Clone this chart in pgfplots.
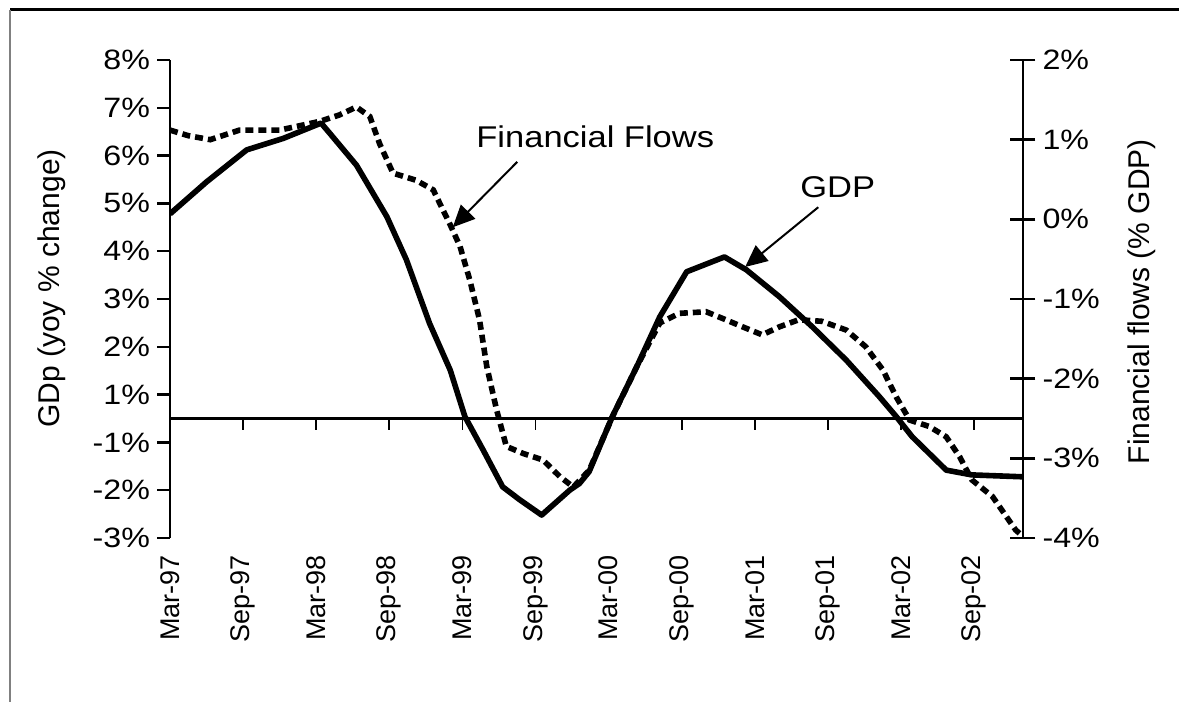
\documentclass[border=0pt]{standalone}
\usepackage{fontspec}
\setmainfont{Liberation Sans}[FakeStretch=1.15]
\newfontfamily\rotfont{Liberation Sans}
\usepackage{pgfplots}
\usepackage{pgfplotstable}
\pgfplotsset{compat=1.18}
\usetikzlibrary{arrows.meta}

\pgfplotstableread{
x y
0 4.28
3.0 4.95
6.3 5.62
9.3 5.86
12.4 6.18
13.1 5.97
15.3 5.30
17.8 4.22
19.4 3.32
21.3 1.99
23.0 1.01
24.2 0.04
25.7 -0.66
27.3 -1.43
28.7 -1.70
30.5 -2.02
32.8 -1.50
33.6 -1.36
34.4 -1.11
36.3 0.04
38.3 1.08
40.2 2.13
42.4 3.07
45.5 3.38
47.3 3.11
50.0 2.55
52.7 1.92
55.5 1.22
58.2 0.46
59.6 0.04
60.9 -0.38
63.7 -1.08
65.8 -1.18
70 -1.22
}\gdptable

\pgfplotstableread{
x y
0 1.12
1.5 1.05
3.3 1.00
5.7 1.12
9.0 1.12
12.3 1.23
13.9 1.31
15.3 1.41
16.4 1.29
17.2 0.95
18.3 0.58
20.2 0.49
21.6 0.37
23.0 -0.07
23.8 -0.34
24.6 -0.76
25.4 -1.26
26.0 -1.85
26.8 -2.39
27.6 -2.85
29.0 -2.94
30.6 -3.02
32.0 -3.23
33.1 -3.36
34.4 -3.15
36.3 -2.48
38.3 -1.85
40.2 -1.30
41.8 -1.18
44.0 -1.16
45.6 -1.26
47.0 -1.35
48.6 -1.45
50.0 -1.35
51.6 -1.26
53.5 -1.28
55.5 -1.39
57.1 -1.60
58.5 -1.89
59.6 -2.23
60.7 -2.52
62.3 -2.60
63.7 -2.73
64.8 -2.98
65.8 -3.27
67.5 -3.48
69.4 -3.90
70 -3.98
}\fftable

\pgfplotstableread{
x y
6 -0.25
12 -0.25
18 -0.25
24 -0.25
30 -0.25
36 -0.25
42 -0.25
48 -0.25
54 -0.25
60 -0.25
66 -0.25
}\ticktable

\pgfplotsset{
  base/.style={
    scale only axis, width=426.5bp, height=239bp,
    xmin=0, xmax=70,
    at={(85bp,82bp)}, anchor=south west,
    axis line style={line width=1.2bp, black},
    every tick/.style={line width=1.2bp, black},
    yticklabel style={font=\fontsize{14bp}{16bp}\selectfont, text=black},
  }
}

\begin{document}
\begin{tikzpicture}
\begin{axis}[base,
  ymin=-2.5, ymax=7.5,
  axis y line*=left, axis x line*=bottom,
  x axis line style={draw=none},
  ytick={-2.5,-1.5,-0.5,0.5,1.5,2.5,3.5,4.5,5.5,6.5,7.5},
  yticklabels={-3\%,-2\%,-1\%,1\%,2\%,3\%,4\%,5\%,6\%,7\%,8\%},
  ytick align=outside, major tick length=6.5bp,
  xtick={0,6,...,66},
  xticklabels={Mar-97,Sep-97,Mar-98,Sep-98,Mar-99,Sep-99,Mar-00,Sep-00,Mar-01,Sep-01,Mar-02,Sep-02},
  xtick align=inside,
  x tick style={draw=none},
  xticklabel shift=5bp,
  xticklabel style={rotate=90, anchor=east, font=\rotfont\fontsize{13.5bp}{15bp}\selectfont},
]
\addplot[black, line width=1.5bp] coordinates {(0,0) (70,0)};
\addplot[ycomb, black, line width=0.9bp, no marks] table {\ticktable};
\addplot[black, line width=2.8bp, line join=round] table {\gdptable};
\node[font=\fontsize{15bp}{17bp}\selectfont] at (axis cs:34.9,5.89) {Financial Flows};
\draw[line width=1bp, -{Triangle[length=11bp,width=10bp]}] (axis cs:28.5,5.37) -- (axis cs:23.2,4.0);
\node[font=\fontsize{15bp}{17bp}\selectfont] at (axis cs:54.8,4.84) {GDP};
\draw[line width=1bp, -{Triangle[length=11bp,width=10bp]}] (axis cs:53.2,4.42) -- (axis cs:47.2,3.17);
\end{axis}
\begin{axis}[base,
  ymin=-4, ymax=2,
  axis y line*=right, axis x line=none,
  ytick={-4,-3,-2,-1,0,1,2},
  yticklabels={-4\%,-3\%,-2\%,-1\%,0\%,1\%,2\%},
  tick align=center, major tick length=12.5bp,
]
\addplot[black, line width=2.8bp, dash pattern=on 4bp off 2.5bp] table {\fftable};
\end{axis}
\node[rotate=90, font=\rotfont\fontsize{15bp}{17bp}\selectfont] at (26bp,206.75bp) {GDp (yoy \% change)};
\node[rotate=90, font=\rotfont\fontsize{15bp}{17bp}\selectfont] at (571bp,200.25bp) {Financial flows (\% GDP)};
\draw[line width=1.5bp] (5bp,346bp) -- (589.5bp,346bp);
\draw[gray, line width=1bp] (5bp,346bp) -- (5bp,0bp);
\pgfresetboundingbox
\path[use as bounding box] (0,0) rectangle (589.5bp,351bp);
\end{tikzpicture}
\end{document}
